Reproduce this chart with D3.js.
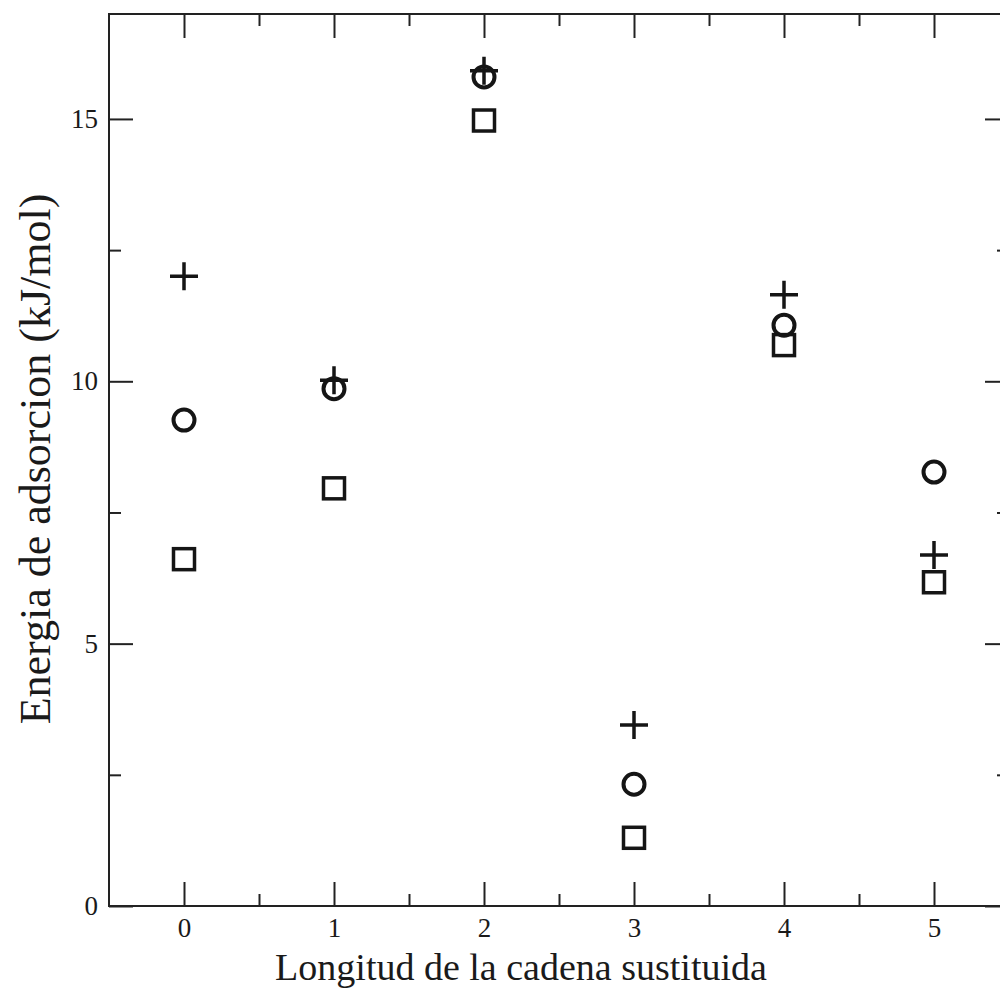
<!DOCTYPE html>
<html>
<head>
<meta charset="utf-8">
<script src="https://cdn.jsdelivr.net/npm/d3@7"></script>
<style>
  body { margin: 0; background: #fff; }
  svg { display: block; }
  text { font-family: "Liberation Serif", "Times New Roman", serif; fill: #1a1a1a; }
</style>
</head>
<body>
<script>
var W = 1000, H = 992;

// data
var chainLength = [0, 1, 2, 3, 4, 5];
var plusSeries = [12.0, 10.02, 15.92, 3.45, 11.65, 6.69];
var circleSeries = [9.26, 9.86, 15.8, 2.32, 11.07, 8.27];
var squareSeries = [6.61, 7.96, 14.97, 1.30, 10.69, 6.17];
var xMajor = [0, 1, 2, 3, 4, 5];
var xMinor = [0.5, 1.5, 2.5, 3.5, 4.5];
var yMajor = [0, 5, 10, 15];
var yMinor = [2.5, 7.5, 12.5];

var LEFT = 109, RIGHT = 1009, TOP = 14, BOTTOM = 906;
var AXISCOLOR = '#222';
var MARKCOLOR = '#151515';

var x = d3.scaleLinear().domain([-0.5, 5.5]).range([LEFT, RIGHT]);
var y = d3.scaleLinear().domain([0, 17]).range([BOTTOM, TOP]);

SVG = d3.select('body').append('svg').attr('width', W).attr('height', H);

function styleAxis(g) {
  g.select('.domain').remove();
  g.selectAll('.tick line').attr('stroke', AXISCOLOR).attr('stroke-width', 2);
  g.selectAll('.tick text').style('font-size', '27px').attr('fill', '#1a1a1a');
}

// bottom / top
SVG.append('g').attr('transform', 'translate(0,' + BOTTOM + ')')
   .call(d3.axisBottom(x).tickValues(xMajor).tickFormat(d3.format('d')).tickSize(-24).tickPadding(12))
   .call(styleAxis);
SVG.append('g').attr('transform', 'translate(0,' + BOTTOM + ')')
   .call(d3.axisBottom(x).tickValues(xMinor).tickFormat('').tickSize(-12))
   .call(styleAxis);
SVG.append('g').attr('transform', 'translate(0,' + TOP + ')')
   .call(d3.axisTop(x).tickValues(xMajor).tickFormat('').tickSize(-24))
   .call(styleAxis);
SVG.append('g').attr('transform', 'translate(0,' + TOP + ')')
   .call(d3.axisTop(x).tickValues(xMinor).tickFormat('').tickSize(-12))
   .call(styleAxis);

// left / right
SVG.append('g').attr('transform', 'translate(' + LEFT + ',0)')
   .call(d3.axisLeft(y).tickValues(yMajor).tickFormat(d3.format('d')).tickSize(-24).tickPadding(11))
   .call(styleAxis);
SVG.append('g').attr('transform', 'translate(' + LEFT + ',0)')
   .call(d3.axisLeft(y).tickValues(yMinor).tickFormat('').tickSize(-12))
   .call(styleAxis);
SVG.append('g').attr('transform', 'translate(' + RIGHT + ',0)')
   .call(d3.axisRight(y).tickValues(yMajor).tickFormat('').tickSize(-24))
   .call(styleAxis);
SVG.append('g').attr('transform', 'translate(' + RIGHT + ',0)')
   .call(d3.axisRight(y).tickValues(yMinor).tickFormat('').tickSize(-12))
   .call(styleAxis);

// frame
SVG.append('rect')
   .attr('x', LEFT).attr('y', TOP)
   .attr('width', RIGHT - LEFT).attr('height', BOTTOM - TOP)
   .attr('fill', 'none').attr('stroke', AXISCOLOR).attr('stroke-width', 2);

// markers
var PLOT = SVG.append('g').attr('id', 'points');

PLOT.selectAll('.sq').data(squareSeries).enter().append('rect')
   .attr('class', 'sq')
   .attr('x', function(d, i) { return x(chainLength[i]) - 10.5; })
   .attr('y', function(d) { return y(d) - 10.5; })
   .attr('width', 21).attr('height', 21)
   .attr('fill', 'none').attr('stroke', MARKCOLOR).attr('stroke-width', 3.5);

PLOT.selectAll('.ci').data(circleSeries).enter().append('circle')
   .attr('class', 'ci')
   .attr('cx', function(d, i) { return x(chainLength[i]); })
   .attr('cy', function(d) { return y(d); })
   .attr('r', 10.5)
   .attr('fill', 'none').attr('stroke', MARKCOLOR).attr('stroke-width', 4);

PLOT.selectAll('.pl').data(plusSeries).enter().append('path')
   .attr('class', 'pl')
   .attr('d', function(d, i) {
     var cx = x(chainLength[i]), cy = y(d), a = 14;
     return 'M' + (cx - a) + ',' + cy + 'H' + (cx + a) + 'M' + cx + ',' + (cy - a) + 'V' + (cy + a);
   })
   .attr('fill', 'none').attr('stroke', MARKCOLOR).attr('stroke-width', 3.5);

// axis titles
SVG.append('text')
   .attr('x', 521).attr('y', 980)
   .attr('text-anchor', 'middle')
   .style('font-size', '38px')
   .text('Longitud de la cadena sustituida');

SVG.append('text')
   .attr('transform', 'translate(50,' + 459 + ') rotate(-90)')
   .attr('text-anchor', 'middle')
   .style('font-size', '44px')
   .text('Energia de adsorcion (kJ/mol)');
</script>
</body>
</html>
